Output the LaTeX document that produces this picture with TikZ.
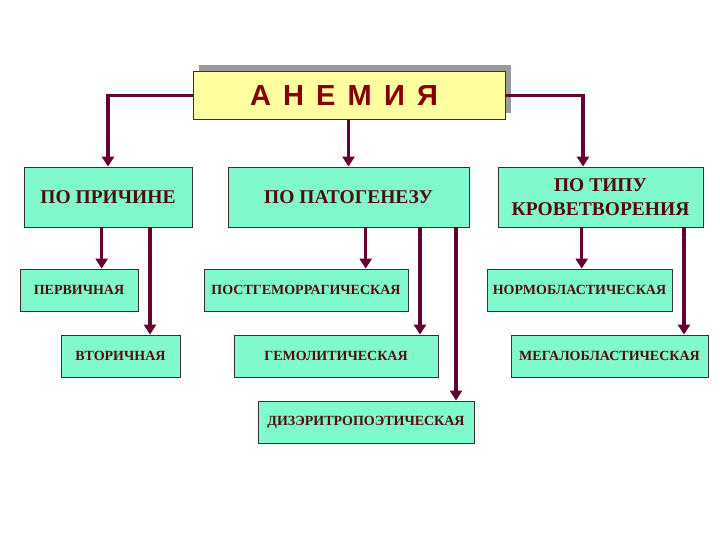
\documentclass[tikz,border=0pt]{standalone}
\usepackage{fontspec}
\setmainfont{Liberation Serif}
\newfontfamily\titlefont[LetterSpace=42]{Liberation Sans}
\usetikzlibrary{arrows.meta,shadows}
\definecolor{boxfill}{RGB}{128,250,204}
\definecolor{titlefill}{RGB}{255,255,160}
\definecolor{linecol}{RGB}{100,0,50}
\definecolor{txtcol}{RGB}{80,12,12}
\definecolor{titlecol}{RGB}{130,0,0}
\tikzset{
  bigbox/.style={draw=black!80, line width=0.8pt, fill=boxfill, rectangle, inner sep=0pt,
    text=txtcol, font=\fontsize{19.5}{24}\selectfont\bfseries, align=center},
  smallbox/.style={draw=black!80, line width=0.8pt, fill=boxfill, rectangle, inner sep=0pt,
    text=txtcol, font=\fontsize{14}{16}\selectfont\bfseries},
  arr/.style={draw=linecol, line width=3.5pt, -{Triangle[width=12pt,length=10pt]}},
}
\begin{document}
\begin{tikzpicture}[x=1pt,y=-1pt]
\useasboundingbox (0,0) rectangle (720,540);
\node[draw=black!80, line width=0.8pt, fill=titlefill, minimum width=312pt, minimum height=48pt, inner sep=0pt,
  drop shadow={shadow xshift=6pt, shadow yshift=6pt, fill=black!40, opacity=1},
  text=titlecol, font=\titlefont\fontsize{29}{31}\selectfont\bfseries] (title) at (349,95.5) {АНЕМИЯ\hspace*{10pt}};

\node[bigbox, minimum width=168pt, minimum height=60pt] (p1) at (108,197) {ПО ПРИЧИНЕ};
\node[bigbox, minimum width=241pt, minimum height=60pt] (p2) at (348.5,197) {ПО ПАТОГЕНЕЗУ};
\node[bigbox, minimum width=205pt, minimum height=60pt] (p3) at (600.5,197) {ПО ТИПУ\\КРОВЕТВОРЕНИЯ};

\node[smallbox, minimum width=118pt, minimum height=42pt] (a1) at (79,290) {ПЕРВИЧНАЯ};
\node[smallbox, minimum width=119pt, minimum height=42pt] (a2) at (120.5,356) {ВТОРИЧНАЯ};
\node[smallbox, minimum width=204pt, minimum height=42pt] (b1) at (306,290) {ПОСТГЕМОРРАГИЧЕСКАЯ};
\node[smallbox, minimum width=204pt, minimum height=42pt] (b2) at (336,356) {ГЕМОЛИТИЧЕСКАЯ};
\node[smallbox, minimum width=216pt, minimum height=42pt] (b3) at (366,422) {ДИЗЭРИТРОПОЭТИЧЕСКАЯ};
\node[smallbox, minimum width=185pt, minimum height=42pt] (c1) at (579.5,290) {НОРМОБЛАСТИЧЕСКАЯ};
\node[smallbox, minimum width=197pt, minimum height=42pt] (c2) at (609.5,356) {МЕГАЛОБЛАСТИЧЕСКАЯ};

\draw[arr] (title.west) -| (p1.north);
\draw[arr] (title.east) -| (583,0 |- p3.north);
\draw[arr] (p2.north |- title.south) -- (p2.north);

\draw[arr] (101.7,0 |- p1.south) -- (101.7,0 |- a1.north);
\draw[arr] (150,0 |- p1.south) -- (150,0 |- a2.north);
\draw[arr] (365.7,0 |- p2.south) -- (365.7,0 |- b1.north);
\draw[arr] (420,0 |- p2.south) -- (420,0 |- b2.north);
\draw[arr] (456,0 |- p2.south) -- (456,0 |- b3.north);
\draw[arr] (581.7,0 |- p3.south) -- (581.7,0 |- c1.north);
\draw[arr] (684,0 |- p3.south) -- (684,0 |- c2.north);
\end{tikzpicture}
\end{document}
